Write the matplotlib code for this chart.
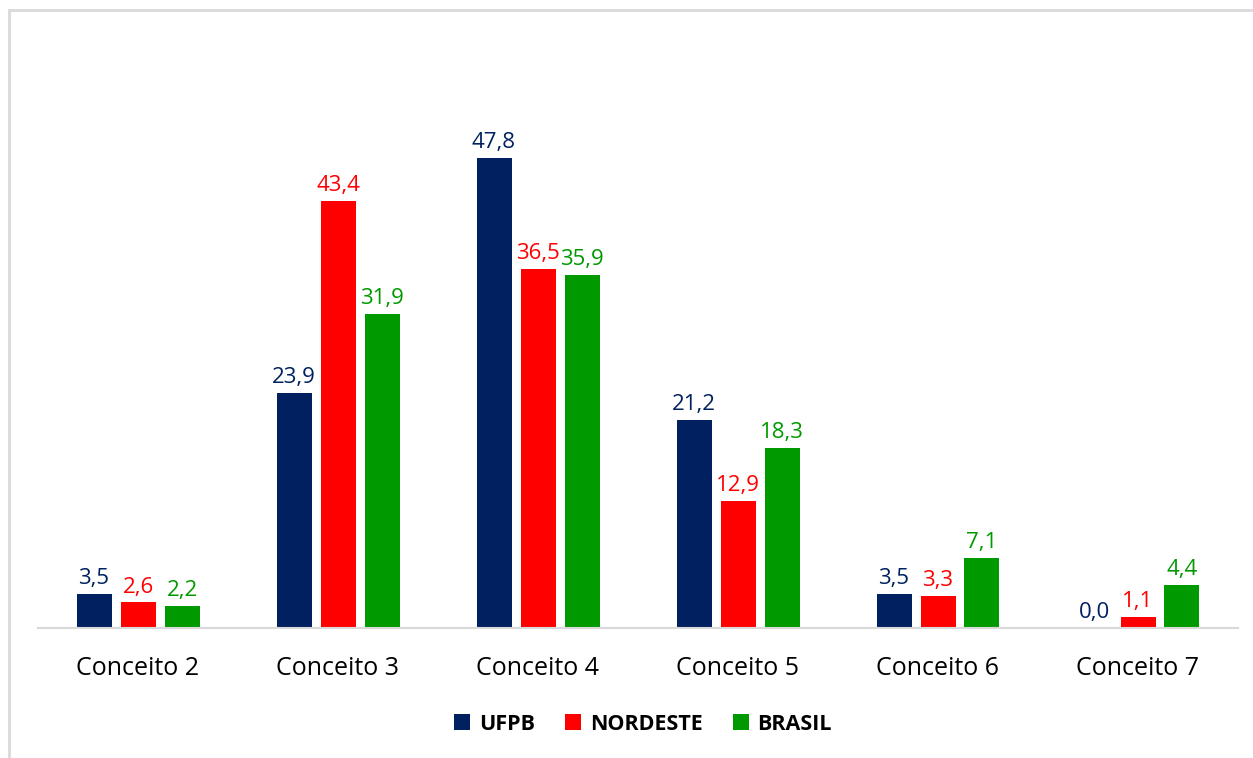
import numpy as np
import matplotlib
matplotlib.use("Agg")
import matplotlib.pyplot as plt
from matplotlib.patches import Rectangle

# Dados
categorias = ["Conceito 2", "Conceito 3", "Conceito 4", "Conceito 5", "Conceito 6", "Conceito 7"]
series = ["UFPB", "NORDESTE", "BRASIL"]
ufpb = [3.5, 23.9, 47.8, 21.2, 3.5, 0.0]
nordeste = [2.6, 43.4, 36.5, 12.9, 3.3, 1.1]
brasil = [2.2, 31.9, 35.9, 18.3, 7.1, 4.4]
cores = ["#002060", "#FF0000", "#009900"]

plt.rcParams['font.family'] = ['Open Sans', 'DejaVu Sans']

fig = plt.figure(figsize=(12.53, 7.58), dpi=100)
W, H = 1253, 758
ax = fig.add_axes([38 / W, (H - 628) / H, 1200 / W, 590 / H])

# Moldura do gráfico (só topo e esquerda visíveis)
fig.patches.append(Rectangle((9 / W, -0.05), 1.1, (H - 10) / H + 0.05,
                             transform=fig.transFigure, fill=False,
                             edgecolor="#D9D9D9", linewidth=2))

x = np.arange(len(categorias))
largura = 0.175
desloc = 0.22
for i, (nome, vals) in enumerate(zip(series, [ufpb, nordeste, brasil])):
    pos = x + (i - 1) * desloc
    ax.bar(pos, vals, width=largura, color=cores[i], label=nome, zorder=2)
    for xp, v in zip(pos, vals):
        ax.text(xp, v + 0.5, f"{v:.1f}".replace(".", ","), ha="center", va="bottom",
                fontsize=16, color=cores[i])

ax.set_xlim(-0.5, len(categorias) - 0.5)
ax.set_ylim(0, 60)
ax.set_yticks([])
ax.set_xticks(x)
ax.set_xticklabels(categorias, fontsize=18)
ax.tick_params(axis="x", length=0, pad=20)
for s in ["top", "right", "left"]:
    ax.spines[s].set_visible(False)
ax.spines["bottom"].set_color("#D9D9D9")
ax.spines["bottom"].set_linewidth(1.5)

leg = fig.legend(loc="center", bbox_to_anchor=(643 / W, (H - 724) / H), ncol=3,
                 frameon=False, prop={"weight": "bold", "size": 15.5},
                 handlelength=0.75, handleheight=0.75, columnspacing=1.4, handletextpad=0.4)

fig.savefig("out.png", dpi=100)
